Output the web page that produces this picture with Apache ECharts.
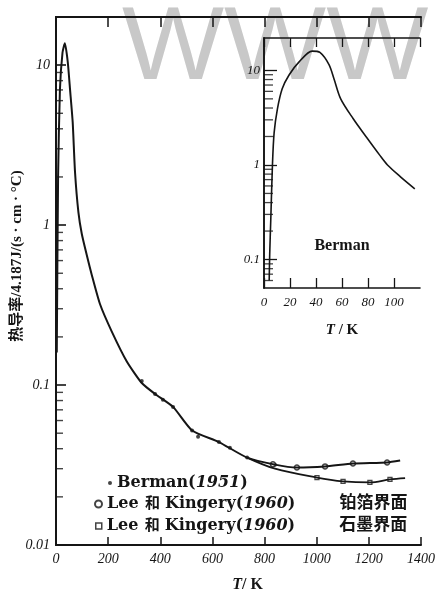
<!DOCTYPE html>
<html>
<head>
<meta charset="utf-8">
<script src="https://cdn.jsdelivr.net/npm/echarts@6.0.0/dist/echarts.min.js"></script>
<style>
    html, body { margin: 0; padding: 0; background: #fff; }
    #main { width: 440px; height: 591px; }
</style>
</head>
<body>
<div id="main"></div>
<script>
// main plot, T in K, k in 4.187J/(s·cm·°C)
var mainT = [3, 8, 15, 25, 34, 45, 54, 64, 73, 86, 99, 118, 137, 169, 214, 271, 329, 380, 449, 522, 625, 733, 840, 924, 1032, 1139, 1270, 1320];
var mainK = [0.16, 2, 7, 12, 13.7, 10.5, 7.0, 4.4, 2.14, 1.2, 0.88, 0.65, 0.49, 0.32, 0.216, 0.141, 0.103, 0.088, 0.073, 0.052, 0.044, 0.0352, 0.0318, 0.0305, 0.031, 0.0323, 0.0328, 0.0337];
// lower branch (graphite interface)
var lowT = [733, 840, 1001, 1101, 1204, 1281, 1339];
var lowK = [0.0352, 0.0300, 0.0264, 0.025, 0.0246, 0.0257, 0.0262];
// measured points
var bermanT = [329, 380, 410, 449, 522, 545, 625, 667, 733, 840];
var bermanK = [0.106, 0.088, 0.081, 0.073, 0.052, 0.0475, 0.044, 0.0406, 0.0352, 0.0318];
var leePtT = [832, 924, 1032, 1139, 1270];
var leePtK = [0.032, 0.0305, 0.031, 0.0323, 0.0328];
var leeGrT = [1001, 1101, 1204, 1281];
var leeGrK = [0.0264, 0.025, 0.0246, 0.0257];
// inset (Berman, low temperature)
var insetT = [4, 4.4, 5.2, 6.5, 7.8, 10.3, 14, 19.4, 27, 37, 43, 50, 54, 59, 68.5, 79, 89, 95, 105, 116];
var insetK = [0.06, 0.115, 0.26, 1.0, 2.2, 3.9, 6.4, 9, 12.3, 16, 15.5, 11.5, 8.0, 5.0, 3.1, 1.95, 1.27, 1.0, 0.75, 0.56];
// log minor ticks
var minorSteps = [2, 3, 4, 5, 6, 7, 8, 9];
var decades = [0.01, 0.1, 1];

var SERIF = '"Liberation Serif", "Noto Sans CJK SC", serif';
var INK = '#151515';

function zip(xs, ys) {
    return xs.map(function (x, i) { return [x, ys[i]]; });
}

function minorTicks(min) {
    var out = [];
    decades.forEach(function (d) {
        minorSteps.forEach(function (s) {
            var v = +(d * s).toPrecision(3);
            if (v > min) out.push([0, v]);
        });
    });
    return out;
}

function loadMain() {
    var chart = echarts.init(document.getElementById('main'));
    var axisLine = { show: true, lineStyle: { color: INK, width: 2 } };
    var label = { color: INK, fontFamily: SERIF, fontStyle: 'italic', fontSize: 14 };
    var plain = function (v) { return String(v); };

    chart.setOption({
        backgroundColor: '#fff',
        animation: false,
        grid: [
            { left: 56, top: 17, width: 365, height: 528, outerBoundsMode: 'none' },
            { left: 264, top: 38, width: 156, height: 250, outerBoundsMode: 'none' }
        ],
        graphic: [
            {
                type: 'text', x: 122, y: 50, z: -10, silent: true, scaleX: 1.04,
                style: { text: 'WWW', fill: '#c8c8c8', font: '104px "Liberation Sans"', verticalAlign: 'middle' }
            },
            {
                type: 'text', x: 342, y: 246,
                style: { text: 'Berman', fill: INK, font: 'bold 16px "Liberation Serif"', align: 'center', verticalAlign: 'middle' }
            }
        ],
        legend: [
            {
                data: [{ name: 'Berman(1951)', icon: 'circle', itemStyle: { color: INK } }],
                left: 103, top: 469, itemWidth: 4, itemHeight: 4, selectedMode: false,
                formatter: '{b|Berman(}{i|1951}{b|)}',
                textStyle: legendText()
            },
            {
                data: [{ name: 'Lee和Kingery(1960)铂箔界面', icon: 'circle', itemStyle: { color: '#fff', borderColor: INK, borderWidth: 2 } }],
                left: 89, top: 490, itemWidth: 7, itemHeight: 7, selectedMode: false,
                formatter: '{l|Lee}{h|和}{b|Kingery(}{i|1960}{b|)}{s|}{c|铂箔界面}',
                textStyle: legendText()
            },
            {
                data: [{ name: 'Lee和Kingery(1960)石墨界面', icon: 'rect', itemStyle: { color: '#fff', borderColor: INK, borderWidth: 1.5 } }],
                left: 90, top: 512, itemWidth: 6, itemHeight: 6, selectedMode: false,
                formatter: '{l|Lee}{h|和}{b|Kingery(}{i|1960}{b|)}{s|}{c|石墨界面}',
                textStyle: legendText()
            }
        ],
        xAxis: [
            {
                gridIndex: 0, type: 'value', min: 0, max: 1400, interval: 200,
                axisLine: axisLine, splitLine: { show: false },
                axisTick: { inside: true, length: 8, lineStyle: { color: INK, width: 1.5 } },
                axisLabel: Object.assign({ margin: 7, formatter: plain }, label),
                name: '{i|T}/ K', nameLocation: 'middle', nameGap: 32, nameMoveOverlap: false,
                nameTextStyle: {
                    padding: [0, 0, 0, 18],
                    rich: {
                        i: { fontFamily: SERIF, fontStyle: 'italic', fontSize: 16, color: INK }
                    },
                    fontFamily: SERIF, fontSize: 16, color: INK, fontWeight: 'bold'
                }
            },
            {
                gridIndex: 0, type: 'value', position: 'top', min: 0, max: 1400, interval: 200,
                axisLine: axisLine, splitLine: { show: false },
                axisTick: { inside: true, length: 10, lineStyle: { color: INK, width: 1.5 } },
                axisLabel: { show: false }
            },
            {
                gridIndex: 1, type: 'value', min: 0, max: 120, interval: 20,
                axisLine: { show: true, lineStyle: { color: INK, width: 1.6 } }, splitLine: { show: false },
                axisTick: { inside: true, length: 10, lineStyle: { color: INK, width: 1.3 } },
                axisLabel: Object.assign({ margin: 8, showMaxLabel: false, formatter: plain }, label, { fontSize: 13 }),
                name: '{i|T} / K', nameLocation: 'middle', nameGap: 35, nameMoveOverlap: false,
                nameTextStyle: {
                    rich: {
                        i: { fontFamily: SERIF, fontStyle: 'italic', fontSize: 15, color: INK }
                    },
                    fontFamily: SERIF, fontSize: 15, color: INK, fontWeight: 'bold'
                }
            },
            {
                gridIndex: 1, type: 'value', position: 'top', min: 0, max: 120, interval: 20,
                axisLine: { show: true, lineStyle: { color: INK, width: 1.6 } }, splitLine: { show: false },
                axisTick: { inside: true, length: 9, lineStyle: { color: INK, width: 1.3 } },
                axisLabel: { show: false }
            }
        ],
        yAxis: [
            {
                gridIndex: 0, type: 'log', logBase: 10, min: 0.01, max: 20,
                axisLine: axisLine, splitLine: { show: false },
                axisTick: { inside: true, length: 10, lineStyle: { color: INK, width: 1.6 } },
                axisLabel: Object.assign({ margin: 6, showMaxLabel: false }, label),
                name: '热导率/4.187J/(s · cm · °C)', nameLocation: 'middle', nameGap: 31, nameRotate: 90,
                nameMoveOverlap: false,
                nameTextStyle: {
                    fontFamily: SERIF, fontSize: 15, fontWeight: 'bold', color: INK,
                    padding: [0, 0, 0, 50]
                }
            },
            {
                gridIndex: 0, type: 'log', logBase: 10, min: 0.01, max: 20, position: 'right',
                axisLine: axisLine, splitLine: { show: false },
                axisTick: { show: false }, axisLabel: { show: false }
            },
            {
                gridIndex: 1, type: 'log', logBase: 10, min: 0.05, max: 22,
                axisLine: { show: true, lineStyle: { color: INK, width: 1.6 } }, splitLine: { show: false },
                axisTick: { inside: true, length: 13, lineStyle: { color: INK, width: 1.3 } },
                axisLabel: Object.assign({ margin: 4, showMaxLabel: false, showMinLabel: false }, label, { fontSize: 13 })
            },
            {
                gridIndex: 1, type: 'log', logBase: 10, min: 0.05, max: 22, position: 'right',
                axisLine: { show: true, lineStyle: { color: INK, width: 1.6 } }, splitLine: { show: false },
                axisTick: { show: false }, axisLabel: { show: false }
            }
        ],
        series: [
            {
                name: 'Berman curve', type: 'line', xAxisIndex: 0, yAxisIndex: 0,
                data: zip(mainT, mainK), smooth: 0.2, showSymbol: false,
                lineStyle: { color: INK, width: 2 }
            },
            {
                name: 'graphite curve', type: 'line', xAxisIndex: 0, yAxisIndex: 0,
                data: zip(lowT, lowK), smooth: 0.35, showSymbol: false,
                lineStyle: { color: INK, width: 1.8 }
            },
            {
                name: 'Berman(1951)', type: 'scatter', xAxisIndex: 0, yAxisIndex: 0,
                data: zip(bermanT, bermanK), symbol: 'circle', symbolSize: 4,
                itemStyle: { color: INK }
            },
            {
                name: 'Lee和Kingery(1960)铂箔界面', type: 'scatter', xAxisIndex: 0, yAxisIndex: 0,
                data: zip(leePtT, leePtK), symbol: 'circle', symbolSize: 5,
                itemStyle: { color: '#fff', borderColor: INK, borderWidth: 1.5 }
            },
            {
                name: 'Lee和Kingery(1960)石墨界面', type: 'scatter', xAxisIndex: 0, yAxisIndex: 0,
                data: zip(leeGrT, leeGrK), symbol: 'rect', symbolSize: 4,
                itemStyle: { color: '#fff', borderColor: INK, borderWidth: 1.3 }
            },
            {
                name: 'inset', type: 'line', xAxisIndex: 2, yAxisIndex: 2,
                data: zip(insetT, insetK), smooth: 0.3, showSymbol: false,
                lineStyle: { color: INK, width: 1.6 }
            },
            {
                name: 'minor main', type: 'scatter', xAxisIndex: 0, yAxisIndex: 0,
                data: minorTicks(0.01), symbol: 'rect', symbolSize: [7, 1.4], symbolOffset: [3.5, 0],
                itemStyle: { color: INK }, silent: true, clip: false
            },
            {
                name: 'minor inset', type: 'scatter', xAxisIndex: 2, yAxisIndex: 2,
                data: minorTicks(0.05), symbol: 'rect', symbolSize: [9, 1.3], symbolOffset: [4.5, 0],
                itemStyle: { color: INK }, silent: true, clip: false
            }
        ]
    });
}

function legendText() {
    var base = {
        fontFamily: '"DejaVu Serif", "Noto Sans CJK SC", serif', fontSize: 16, fontWeight: 'bold',
        color: INK, lineHeight: 18, verticalAlign: 'middle'
    };
    return {
        fontFamily: base.fontFamily, fontSize: 16, fontWeight: 'bold', color: INK, lineHeight: 18,
        rich: {
            b: base,
            l: Object.assign({}, base, { width: 33 }),
            h: Object.assign({}, base, { fontSize: 15, width: 25, align: 'center' }),
            i: Object.assign({}, base, { fontStyle: 'italic' }),
            c: Object.assign({}, base, { fontSize: 17 }),
            s: { width: 44, lineHeight: 18 }
        }
    };
}

loadMain();
</script>
</body>
</html>
